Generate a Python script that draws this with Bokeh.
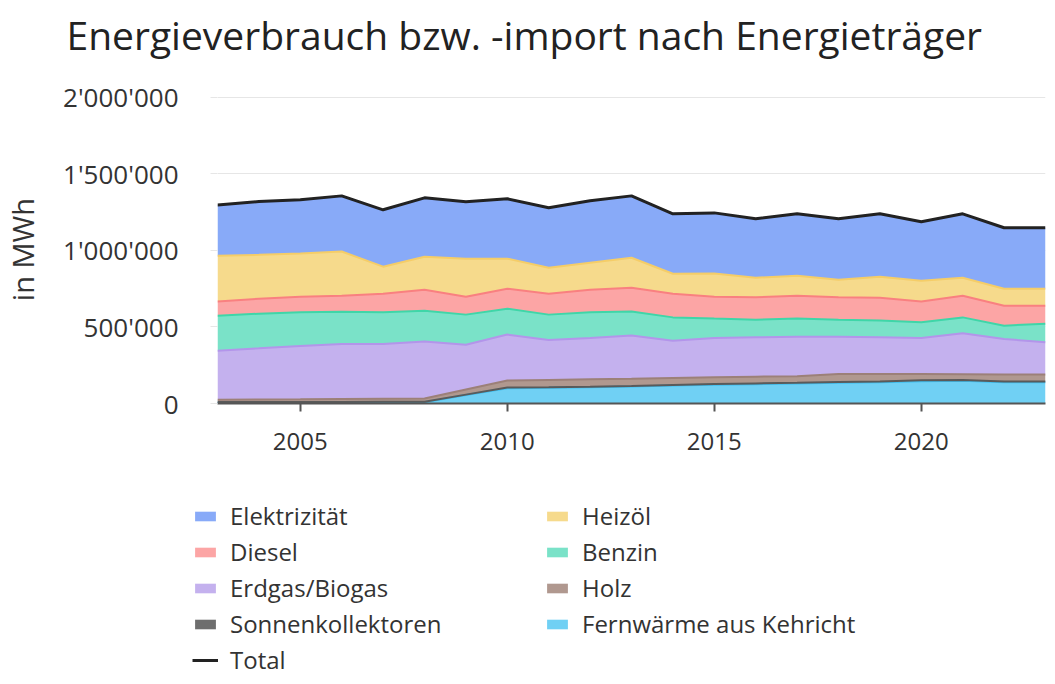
from bokeh.plotting import figure
from bokeh.layouts import column
from bokeh.models import (ColumnDataSource, Range1d, FixedTicker, Label,
                          CustomJSTickFormatter, Legend, LegendItem)
from bokeh.transform import stack
from bokeh.embed import file_html
from bokeh.resources import INLINE

years = list(range(2003, 2024))

# values in MWh
fernwaerme = [6000, 6000, 7000, 7000, 8000, 8000, 55000, 100000, 102000, 106000, 111000,
              117000, 122000, 126000, 130000, 135000, 139000, 145000, 148000, 138000, 138000]
sonnen = [3000, 3000, 3000, 3000, 3000, 3000, 3000, 4000, 4000, 4000, 4000,
          4000, 5000, 5000, 5000, 5000, 5000, 6000, 6000, 6000, 6000]
holz = [15000, 17000, 17000, 19000, 20000, 22000, 34000, 46000, 48000, 48000, 47000,
        46000, 44000, 44000, 43000, 52000, 49000, 42000, 37000, 45000, 45000]
erdgas = [321000, 334000, 349000, 360000, 358000, 371000, 292000, 300000, 261000, 270000, 281000,
          243000, 257000, 257000, 258000, 244000, 239000, 235000, 267000, 232000, 211000]
benzin = [228000, 226000, 219000, 210000, 206000, 202000, 196000, 169000, 165000, 167000, 158000,
          152000, 126000, 115000, 118000, 111000, 109000, 102000, 104000, 87000, 121000]
diesel = [93000, 98000, 102000, 104000, 121000, 137000, 117000, 130000, 136000, 148000, 155000,
          154000, 143000, 146000, 149000, 146000, 149000, 136000, 141000, 130000, 117000]
heizoel = [298000, 286000, 282000, 289000, 177000, 215000, 248000, 196000, 170000, 176000, 195000,
           131000, 152000, 128000, 131000, 115000, 137000, 135000, 118000, 111000, 111000]
elektrizitaet = [332000, 348000, 350000, 363000, 371000, 384000, 371000, 391000, 391000, 404000, 404000,
                 391000, 395000, 384000, 404000, 397000, 411000, 385000, 417000, 398000, 398000]

series_keys = ["fernwaerme", "sonnen", "holz", "erdgas", "benzin", "diesel", "heizoel", "elektrizitaet"]
series_labels = ["Fernwärme aus Kehricht", "Sonnenkollektoren", "Holz", "Erdgas/Biogas",
                 "Benzin", "Diesel", "Heizöl", "Elektrizität"]
fill_colors = ["#70d0f4", "#6e6e6e", "#b0988f", "#c4b1ee", "#7ae2c8", "#fca5a5", "#f6da8c", "#88aaf8"]
line_colors = ["#3cbef0", "#5a5a5a", "#9c8078", "#b395ea", "#3fd6a8", "#f98080", "#f5cd68", "#7797f0"]
total_label = "Total"
title_text = "Energieverbrauch bzw. -import nach Energieträger"

x_ticks = [2005, 2010, 2015, 2020]
y_ticks = [0, 500000, 1000000, 1500000, 2000000]

data = dict(year=years, fernwaerme=fernwaerme, sonnen=sonnen, holz=holz, erdgas=erdgas,
            benzin=benzin, diesel=diesel, heizoel=heizoel, elektrizitaet=elektrizitaet)
data["total"] = [sum(v) for v in zip(fernwaerme, sonnen, holz, erdgas, benzin, diesel,
                                     heizoel, elektrizitaet)]
source = ColumnDataSource(data)

FONT = "Open Sans"
TXT = "#333333"
W = 1047


def bare(fig):
    fig.outline_line_color = None
    fig.background_fill_color = "white"
    fig.border_fill_color = "white"
    try:
        fig.frame_align = False
    except Exception:
        pass
    return fig


# ---- header with the title ----
head = bare(figure(width=W, height=62, output_backend="svg", toolbar_location=None,
                   x_range=Range1d(0, 1), y_range=Range1d(0, 1),
                   x_axis_location=None, y_axis_location=None, min_border=0))
head.grid.visible = False
head.add_layout(Label(x=66, y=28, x_units="screen", y_units="screen", text=title_text,
                      text_font=FONT, text_font_size="39px", text_color="#222222",
                      text_baseline="alphabetic", text_align="left"))

# ---- main chart ----
p = bare(figure(width=W, height=416, output_backend="svg", toolbar_location=None,
                x_range=Range1d(2003, 2023), y_range=Range1d(0, 2010000),
                min_border_left=210, min_border_right=2, min_border_top=33, min_border_bottom=75))

areas = p.varea_stack(stackers=series_keys, x="year", source=source, color=fill_colors)
for i in range(len(series_keys) - 1):
    p.line(x="year", y=stack(*series_keys[:i + 1]), source=source,
           line_color=line_colors[i], line_width=2)
p.line(x="year", y="total", source=source, line_color="#222222", line_width=3)

p.xaxis.ticker = FixedTicker(ticks=x_ticks)
p.xaxis.minor_tick_line_color = None
p.xaxis.axis_line_color = "#555555"
p.xaxis.axis_line_width = 2
p.xaxis.major_tick_line_color = "#555555"
p.xaxis.major_tick_line_width = 2
p.xaxis.major_tick_out = 8
p.xaxis.major_tick_in = 0
p.xaxis.major_label_text_font = FONT
p.xaxis.major_label_text_font_size = "24px"
p.xaxis.major_label_text_color = TXT
p.xaxis.major_label_standoff = 21

p.yaxis.ticker = FixedTicker(ticks=y_ticks)
p.yaxis.formatter = CustomJSTickFormatter(code=r"""return tick.toFixed(0).replace(/\B(?=(\d{3})+(?!\d))/g, "'");""")
p.yaxis.minor_tick_line_color = None
p.yaxis.axis_line_color = None
p.yaxis.major_tick_line_color = "#e6e6e6"
p.yaxis.major_tick_out = 7
p.yaxis.major_tick_in = 0
p.yaxis.major_label_text_font = FONT
p.yaxis.major_label_text_font_size = "26px"
p.yaxis.major_label_text_color = TXT
p.yaxis.major_label_standoff = 32
p.yaxis.axis_label = "in MWh"
p.yaxis.axis_label_text_font = FONT
p.yaxis.axis_label_text_font_size = "29px"
p.yaxis.axis_label_text_font_style = "normal"
p.yaxis.axis_label_text_color = TXT
p.yaxis.axis_label_standoff = 18

p.xgrid.grid_line_color = None
p.ygrid.grid_line_color = "#e6e6e6"
p.ygrid.grid_line_width = 1

# ---- legend panel (swatch renderers use the same data, kept out of view) ----
lg = bare(figure(width=W, height=198, output_backend="svg", toolbar_location=None,
                 x_range=Range1d(0, 1), y_range=Range1d(0, 1),
                 x_axis_location=None, y_axis_location=None, min_border=0))
lg.grid.visible = False
sw_areas = lg.varea_stack(stackers=series_keys, x="year", source=source, color=fill_colors)
swatch = dict(zip(series_keys, sw_areas))
total_sw = lg.line(x="year", y="total", source=source, line_color="#222222", line_width=3)

order = ["elektrizitaet", "diesel", "erdgas", "sonnen", None,
         "heizoel", "benzin", "holz", "fernwaerme"]
items = []
for k in order:
    if k is None:
        items.append(LegendItem(label=total_label, renderers=[total_sw]))
    else:
        items.append(LegendItem(label=series_labels[series_keys.index(k)], renderers=[swatch[k]]))

legend = Legend(items=items, orientation="vertical", ncols=2,
                location=(192, 0), padding=0, margin=0,
                border_line_color=None, background_fill_alpha=0,
                glyph_width=26, glyph_height=12, label_standoff=12,
                label_width=311, label_height=30, spacing=3,
                label_text_font=FONT, label_text_font_size="24px", label_text_color=TXT)
lg.add_layout(legend, "center")

layout = column(head, p, lg, spacing=0)
open("out.html", "w").write(file_html(layout, INLINE))
